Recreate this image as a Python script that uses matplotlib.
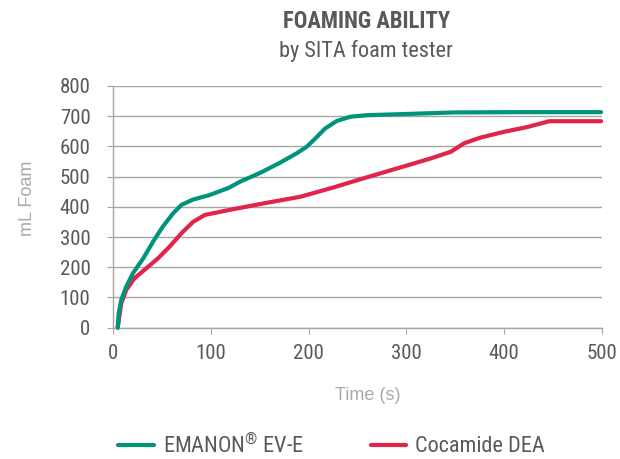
import matplotlib
matplotlib.use("Agg")
import matplotlib.pyplot as plt
from matplotlib.lines import Line2D

plt.rcParams['font.family'] = ['Roboto Condensed', 'DejaVu Sans']
plt.rcParams['mathtext.fontset'] = 'custom'
plt.rcParams['mathtext.rm'] = 'Roboto Condensed'

# data
emanon_t = [5, 6, 8.6, 13.7, 20.5, 31, 41, 51, 61.5, 70, 82, 99, 118, 130, 150.5, 171, 188,
            198, 207, 217, 229, 243, 260, 290.7, 349, 420, 499]
emanon_v = [0, 48, 92, 136, 180, 229, 284, 334, 378, 406, 424, 439, 462, 483, 512, 546, 577,
            598, 626, 659, 684, 698, 703, 706, 712, 713, 713]

coca_t = [5, 8.6, 13.7, 22, 34, 46, 58, 70, 82, 94, 123, 157, 191.5, 225.6, 256, 290.7, 325,
          345.5, 359, 376, 400, 424, 446, 499]
coca_v = [0, 81, 125, 163, 196, 229, 268, 312, 350, 373, 392, 413, 433, 464, 494, 527, 560,
          582, 610, 629, 648, 664, 683, 683]

x_ticks = [0, 100, 200, 300, 400, 500]
y_ticks = [0, 100, 200, 300, 400, 500, 600, 700, 800]

GREEN = '#00957a'
RED = '#e0244a'
GRID = '#a6a6a6'
TEXT = '#595959'
LIGHT = '#a9a9a9'

fig = plt.figure(figsize=(6.2, 4.59), dpi=100)
ax = fig.add_axes([0.182, 0.286, 0.789, 0.527])

ax.plot(emanon_t, emanon_v, color=GREEN, lw=3.0, solid_capstyle='round',
        solid_joinstyle='round', clip_on=False, zorder=3)
ax.plot(coca_t, coca_v, color=RED, lw=3.0, solid_capstyle='round',
        solid_joinstyle='round', clip_on=False, zorder=2)

ax.set_xlim(0, 500)
ax.set_ylim(0, 800)
ax.set_xticks(x_ticks)
ax.set_yticks(y_ticks)
ax.grid(axis='y', color=GRID, lw=1.0)
ax.set_axisbelow(True)
for s in ['top', 'right']:
    ax.spines[s].set_visible(False)
for s in ['left', 'bottom']:
    ax.spines[s].set_color(GRID)
    ax.spines[s].set_linewidth(1.0)
ax.tick_params(axis='y', length=4, color=GRID, pad=12, labelsize=15, labelcolor=TEXT)
ax.tick_params(axis='x', length=4, color=GRID, pad=8, labelsize=15, labelcolor=TEXT)

# axis titles
ax.text(-0.175, 0.536, 'mL Foam', transform=ax.transAxes, rotation=90,
        ha='center', va='center', color=LIGHT, fontsize=13, family='Liberation Sans')
ax.text(0.521, -0.282, 'Time (s)', transform=ax.transAxes,
        ha='center', va='center', color=LIGHT, fontsize=13, family='Liberation Sans')

fig.text(0.591, 0.938, 'FOAMING ABILITY', ha='center', va='baseline',
         fontsize=16.3, fontweight='bold', color=TEXT)
fig.text(0.591, 0.876, 'by SITA foam tester', ha='center', va='baseline',
         fontsize=16, color=TEXT)

handles = [Line2D([], [], color=GREEN, lw=3.0, solid_capstyle='round'),
           Line2D([], [], color=RED, lw=3.0, solid_capstyle='round')]
fig.legend(handles, ['EMANON$^{\u00ae}$ EV-E', 'Cocamide DEA'], loc='center',
           bbox_to_anchor=(0.535, 0.03), ncol=2, frameon=False, fontsize=16,
           labelcolor=TEXT, handlelength=1.6, columnspacing=3.0, handletextpad=0.4,
           borderpad=0.1)

fig.savefig('out.png', dpi=100)
